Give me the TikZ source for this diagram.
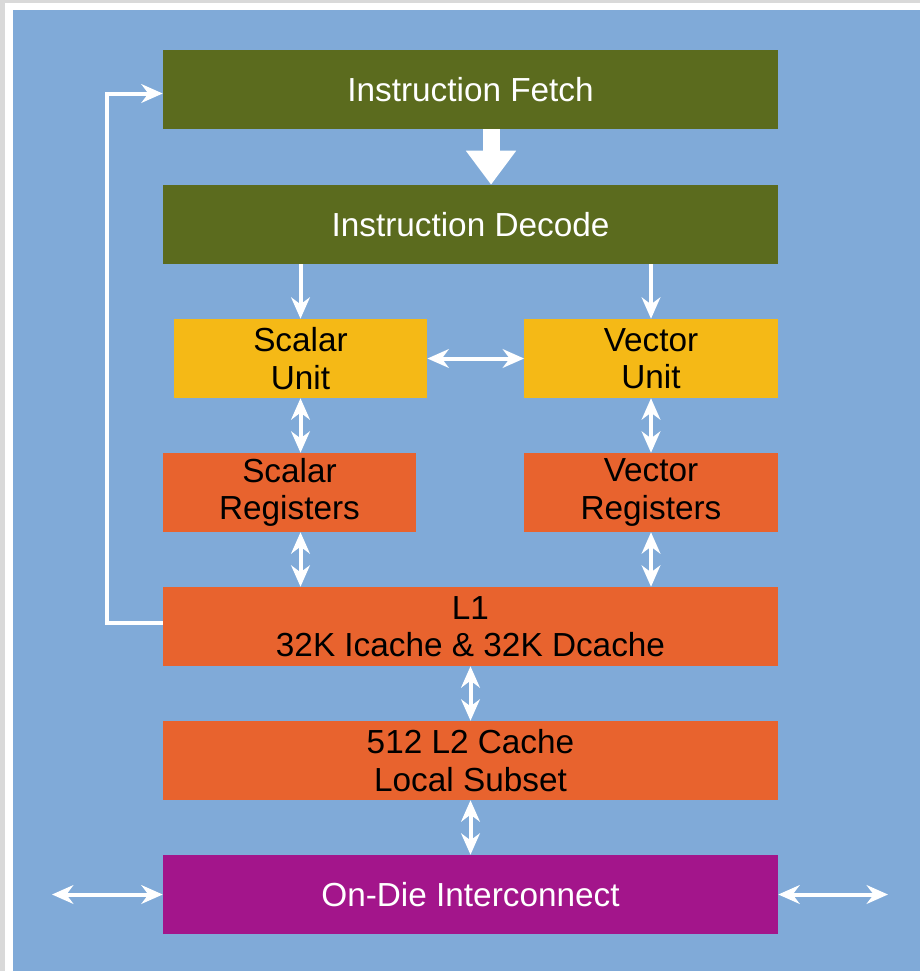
\documentclass[tikz,border=0pt]{standalone}
\usepackage{fontspec}
\setmainfont{Liberation Sans}
\usetikzlibrary{arrows.meta}
\usetikzlibrary{calc}

\begin{document}
\begin{tikzpicture}[x=0.75pt,y=0.75pt,yscale=-1,
    blk/.style={draw=none, inner sep=0pt, minimum height=59.25pt, align=center, font=\fontsize{25}{28}\selectfont},
    wide/.style={blk, minimum width=461.25pt},
    half/.style={blk, minimum width=190pt},
    greenbox/.style={fill={rgb, 255:red, 91; green, 107; blue, 30 }, text=white},
    yellowbox/.style={fill={rgb, 255:red, 245; green, 185; blue, 22 }, text=black},
    orangebox/.style={fill={rgb, 255:red, 232; green, 99; blue, 46 }, text=black},
    purplebox/.style={fill={rgb, 255:red, 163; green, 21; blue, 139 }, text=white},
    flow/.style={draw=white, line width=3pt, -{Stealth[length=16pt,width=14pt]}},
    bothway/.style={flow, {Stealth[length=16pt,width=14pt]}-{Stealth[length=16pt,width=14pt]}},
    bigarrow/.style={draw=white, line width=12.75pt, -{Triangle[length=25.5pt,width=36pt]}}]

    %Shape: Rectangle (frame)
    \fill [fill={rgb, 255:red, 217; green, 217; blue, 217 }] (0,0) rectangle (920,971);
    \fill [fill=white] (5,3) rectangle (920,971);
    \fill [fill={rgb, 255:red, 128; green, 170; blue, 216 }] (13,10) rectangle (920,971);

    % Text Node
    \node [wide, greenbox] (fetch) at (470.5,89.5) {Instruction Fetch};
    % Text Node
    \node [wide, greenbox] (decode) at (470.5,224.5) {Instruction Decode};
    % Text Node
    \node [half, yellowbox] (scalarunit) at (300.5,358.5) {Scalar\\Unit};
    % Text Node
    \node [half, yellowbox] (vectorunit) at (651,358.5) {Vector\\Unit};
    % Text Node
    \node [half, orangebox] (scalarreg) at (289.5,492.5) {Scalar\\Registers};
    % Text Node
    \node [half, orangebox] (vectorreg) at (651,492.5) {Vector\\Registers};
    % Text Node
    \node [wide, orangebox] (l1) at (470.5,626.5) {L1\\32K Icache \& 32K Dcache};
    % Text Node
    \node [wide, orangebox] (l2) at (470.5,760.5) {512 L2 Cache\\Local Subset};
    % Text Node
    \node [wide, purplebox] (ondie) at (470.5,894.5) {On-Die Interconnect};

    \coordinate (westend) at (52,894.5);
    \coordinate (eastend) at (888,894.5);

    %Straight Lines
    \draw [bigarrow] ([xshift=15.4pt]fetch.south) -- ([xshift=15.4pt]decode.north);
    \draw [flow] (scalarunit.north |- decode.south) -- (scalarunit.north);
    \draw [flow] (vectorunit.north |- decode.south) -- (vectorunit.north);
    \draw [bothway] (scalarunit.east) -- (vectorunit.west);
    \draw [bothway] (scalarunit.south) -- (scalarunit.south |- scalarreg.north);
    \draw [bothway] (vectorunit.south) -- (vectorreg.north);
    \draw [bothway] (scalarunit.south |- scalarreg.south) -- (scalarunit.south |- l1.north);
    \draw [bothway] (vectorreg.south) -- (vectorreg.south |- l1.north);
    \draw [bothway] (l1.south) -- (l2.north);
    \draw [bothway] (l2.south) -- (ondie.north);
    \draw [bothway] (westend) -- (ondie.west);
    \draw [bothway] (ondie.east) -- (eastend);
    %Loop back to fetch
    \draw [flow] ([yshift=-3pt]l1.west) -- ++(-56,0) |- ([yshift=3pt]fetch.west);

\end{tikzpicture}
\end{document}
